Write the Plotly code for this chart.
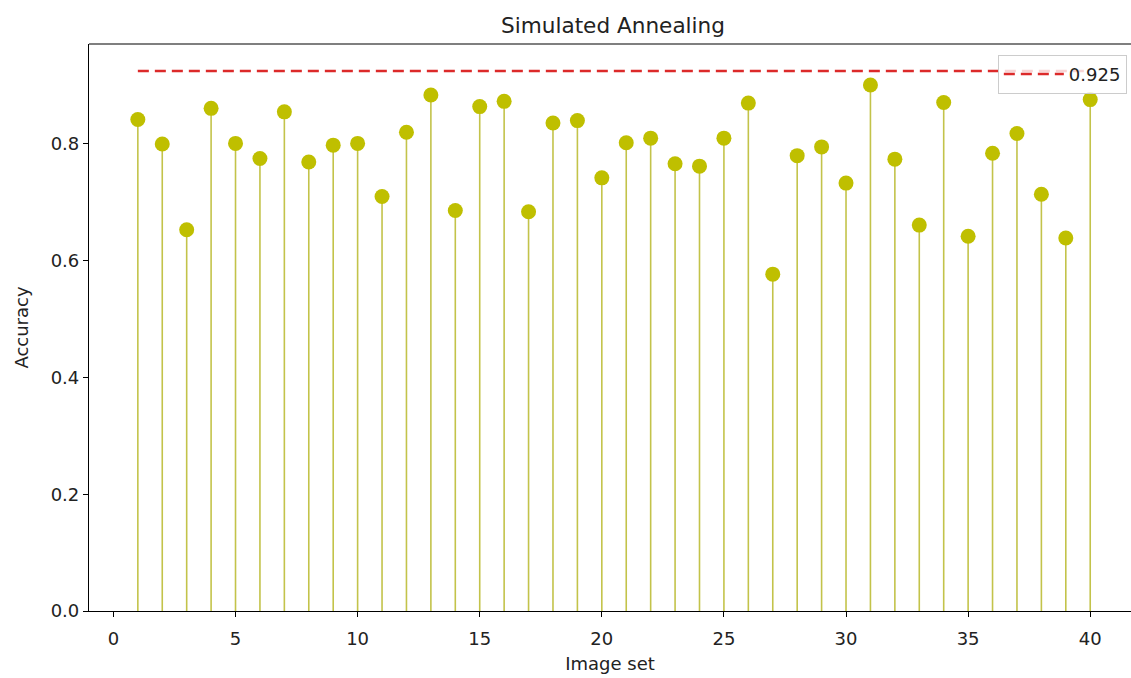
import plotly.graph_objects as go

# ---- data ----
image_set = list(range(1, 41))
accuracy = [0.842, 0.800, 0.653, 0.861, 0.801, 0.775, 0.855, 0.769, 0.798, 0.801,
            0.710, 0.820, 0.884, 0.686, 0.864, 0.873, 0.684, 0.836, 0.840, 0.742,
            0.802, 0.810, 0.766, 0.762, 0.810, 0.870, 0.577, 0.780, 0.795, 0.733,
            0.901, 0.774, 0.661, 0.871, 0.642, 0.784, 0.818, 0.714, 0.639, 0.876]
best_value = 0.925
best_label = "0.925"
x_ticks = [0, 5, 10, 15, 20, 25, 30, 35, 40]
y_ticks = [0.0, 0.2, 0.4, 0.6, 0.8]

STEM = "#c3c34a"
MARK = "#bfbf00"
RED = "#dc2a2a"
FONT = "DejaVu Sans"
TXT = "#222222"

# stems built from data
sx, sy = [], []
for xv, yv in zip(image_set, accuracy):
    sx += [xv, xv, None]
    sy += [0, yv, None]

fig = go.Figure()
fig.add_trace(go.Scatter(x=sx, y=sy, mode="lines", line=dict(color=STEM, width=1.6),
                         showlegend=False, hoverinfo="skip"))
fig.add_trace(go.Scatter(x=image_set, y=accuracy, mode="markers",
                         marker=dict(color=MARK, size=15, line=dict(width=0)),
                         showlegend=False))
fig.add_trace(go.Scatter(x=[image_set[0], image_set[-1]], y=[best_value, best_value],
                         mode="lines", line=dict(color=RED, width=2.6, dash="11px,6px"),
                         name=best_label, showlegend=True))

# top spine
fig.add_shape(type="line", xref="paper", yref="paper", x0=0, x1=1, y0=1, y1=1,
              line=dict(color="black", width=1.2))

fig.update_layout(
    width=1131, height=678,
    margin=dict(l=89, r=0, t=44, b=67),
    plot_bgcolor="white", paper_bgcolor="white",
    font=dict(family=FONT, size=18, color=TXT),
    title=dict(text="Simulated Annealing", x=0.542, xanchor="center", xref="container",
               yref="paper", y=1, yanchor="bottom", pad=dict(b=11),
               font=dict(size=21.6, family=FONT, color=TXT)),
    legend=dict(x=0.996, xanchor="right", y=0.981, yanchor="top",
                bgcolor="rgba(255,255,255,0.8)", bordercolor="#cccccc", borderwidth=1,
                font=dict(size=18, family=FONT, color=TXT), itemwidth=60,
                tracegroupgap=0),
    xaxis=dict(range=[-1.0, 41.67], tickmode="array", tickvals=x_ticks,
               showgrid=False, zeroline=False, showline=True, linecolor="black", linewidth=1.2,
               ticks="outside", ticklen=5, tickwidth=1.2, tickcolor="black",
               ticklabelstandoff=6,
               title=dict(text="Image set", font=dict(size=18, family=FONT, color=TXT), standoff=9)),
    yaxis=dict(range=[0, 0.97125], tickmode="array", tickvals=y_ticks, tickformat=".1f",
               showgrid=False, zeroline=False, showline=True, linecolor="black", linewidth=1.2,
               ticks="outside", ticklen=5, tickwidth=1.2, tickcolor="black",
               title=dict(text="Accuracy", font=dict(size=18, family=FONT, color=TXT), standoff=17)),
)

fig.write_html("out.html", config={"displayModeBar": False},
               post_script="document.body.style.margin='0';")
